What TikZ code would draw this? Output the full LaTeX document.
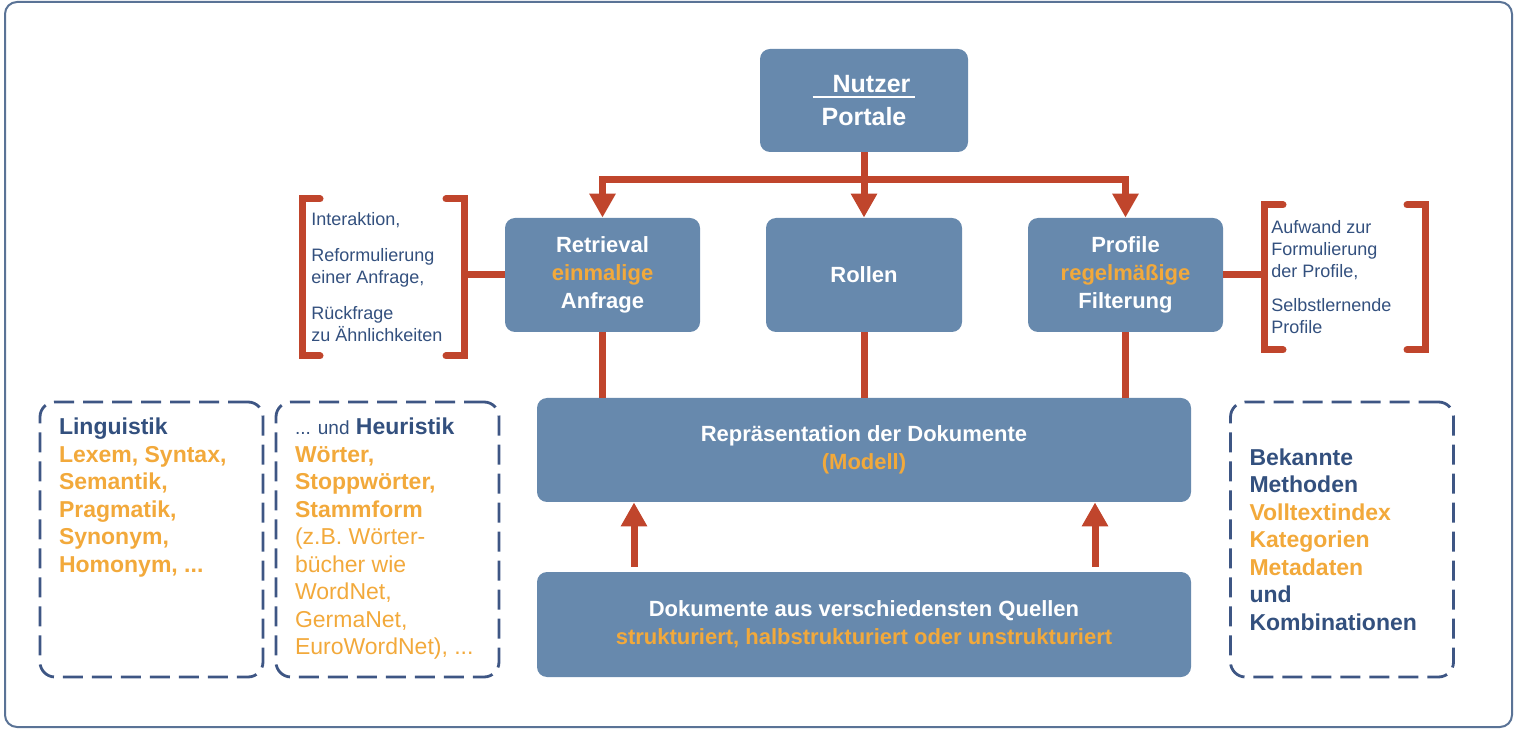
\documentclass[tikz,border=0pt]{standalone}
\usepackage{fontspec}
\setmainfont{Liberation Sans}
\usepackage{tikz}
\usetikzlibrary{
  arrows.meta,
  positioning}

\definecolor{boxblue}{HTML}{6789AD}
\definecolor{redc}{HTML}{C0452C}
\definecolor{orangec}{HTML}{F2A93B}
\definecolor{textblue}{HTML}{33507E}
\definecolor{dashc}{HTML}{3E5684}
\definecolor{framec}{HTML}{5A7396}

\newcommand{\ulnutzer}[1]{\setbox0\hbox{#1}\rlap{\rule[-2.6pt]{\wd0}{1pt}}\box0}

\tikzset{
  box/.style={rectangle,rounded corners=5pt,fill=boxblue,text=white,
    font=\bfseries\fontsize{11}{14}\selectfont,align=center,inner sep=0pt},
  redline/.style={draw=redc,line width=3.5pt},
  arr/.style={redline,-{Triangle[width=12.5pt,length=12pt]}},
  dashbox/.style={draw=dashc,line width=1.4pt,dash pattern=on 10pt off 4.5pt,
    rounded corners=7.5pt,minimum width=111.5pt,minimum height=137.5pt},
  bracktext/.style={text=textblue,font=\fontsize{9}{11}\selectfont,
    align=left,inner sep=0pt,anchor=west},
  listtext/.style={text=textblue,font=\bfseries\fontsize{11.5}{13.75}\selectfont,
    align=left,inner sep=0pt}}

\begin{document}
\begin{tikzpicture}[x=0.5pt,y=-0.5pt]
            \useasboundingbox (0,0) rectangle (1514,731);
            \draw[framec,line width=1pt,rounded corners=6pt] (5,2) rectangle (1512,727);

            \node[box,font=\bfseries\fontsize{12.5}{16.5}\selectfont,minimum width=104pt,minimum height=51.5pt] (nutzer) at (864,100.5) {\ulnutzer{\hspace{10pt}Nutzer\hspace{2.5pt}}\\Portale};
            \node[box,minimum width=97.5pt,minimum height=57pt] (retrieval) at (602.5,275) {Retrieval\\\textcolor{orangec}{einmalige}\\Anfrage};
            \node[box,minimum width=98pt,minimum height=57pt] (rollen) at (864,275) {Rollen};
            \node[box,minimum width=97.5pt,minimum height=57pt] (profile) at (1125.5,275) {Profile\\\textcolor{orangec}{regelmäßige}\\Filterung};
            \node[box,minimum width=327pt,minimum height=52pt] (repr) at (864,450) {Repräsentation der Dokumente\\\textcolor{orangec}{(Modell)}};
            \node[box,minimum width=327pt,minimum height=52.5pt] (doks) at (864,624.5) {Dokumente aus verschiedensten Quellen\\\textcolor{orangec}{strukturiert, halbstrukturiert oder unstrukturiert}};

            \coordinate (split) at (864,180);
            \draw[redline] (nutzer.south) -- (split);
            \draw[arr] (split) -| (retrieval.north);
            \draw[arr] (split) -- (rollen.north);
            \draw[arr] (split) -| (profile.north);
            \draw[redline] (retrieval.south) -- (retrieval.south |- repr.north);
            \draw[redline] (rollen.south) -- (rollen.south |- repr.north);
            \draw[redline] (profile.south) -- (profile.south |- repr.north);

            \coordinate (upL) at (634,0);
            \coordinate (upR) at (1095,0);
            \draw[arr,shorten <=2.5pt] (doks.north -| upL) -- (repr.south -| upL);
            \draw[arr,shorten <=2.5pt] (doks.north -| upR) -- (repr.south -| upR);

            % Klammern
            \coordinate (brL) at (464,275);
            \coordinate (brR) at (1264,275);
            \draw[redline,line cap=round] (320,199) -- (302,199) -- (302,356) -- (320,356);
            \draw[redline,line cap=round] (446,199) -- (464,199) -- (464,356) -- (446,356);
            \draw[redline] (brL) -- (retrieval.west);
            \draw[redline,line cap=round] (1283,205) -- (1264,205) -- (1264,350) -- (1283,350);
            \draw[redline,line cap=round] (1407,205) -- (1425,205) -- (1425,350) -- (1407,350);
            \draw[redline] (profile.east) -- (brR);
            \node[bracktext] (interakt) at (311,277) {Interaktion,\\[7pt]Reformulierung\\einer Anfrage,\\[7pt]Rückfrage\\zu Ähnlichkeiten};
            \node[bracktext] (aufwand) at (1271,277) {Aufwand zur\\Formulierung\\der Profile,\\[6pt]Selbstlernende\\Profile};

            \node[dashbox] (ling) at (151.5,539.5) {};
            \node[dashbox] (heur) at (387.5,539.5) {};
            \node[dashbox] (bek) at (1342,539.5) {};
            \node[listtext,below right=8.5pt and 10pt of ling.north west] (lingtext) {Linguistik\\
              \textcolor{orangec}{Lexem, Syntax,}\\
              \textcolor{orangec}{Semantik,}\\
              \textcolor{orangec}{Pragmatik,}\\
              \textcolor{orangec}{Synonym,}\\
              \textcolor{orangec}{Homonym, ...}};
            \node[listtext,below right=8.5pt and 10pt of heur.north west] (heurtext) {{\mdseries\fontsize{9.5}{13.75}\selectfont ... und} Heuristik\\
              \textcolor{orangec}{Wörter,}\\
              \textcolor{orangec}{Stoppwörter,}\\
              \textcolor{orangec}{Stammform}\\
              \textcolor{orangec}{\mdseries(z.B. Wörter-}\\
              \textcolor{orangec}{\mdseries bücher wie}\\
              \textcolor{orangec}{\mdseries WordNet,}\\
              \textcolor{orangec}{\mdseries GermaNet,}\\
              \textcolor{orangec}{\mdseries EuroWordNet), ...}};
            \node[listtext,right=10pt of bek.west] (bektext) {Bekannte\\Methoden\\
              \textcolor{orangec}{Volltextindex}\\
              \textcolor{orangec}{Kategorien}\\
              \textcolor{orangec}{Metadaten}\\
              und\\Kombinationen};
        \end{tikzpicture}
\end{document}
